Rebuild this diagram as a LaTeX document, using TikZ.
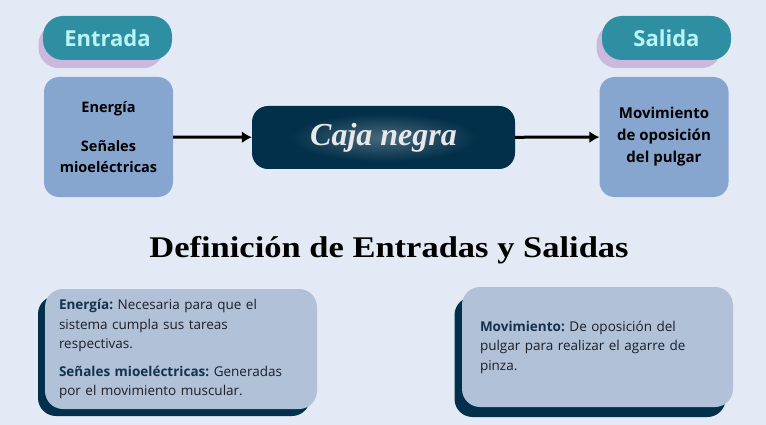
\documentclass[tikz,border=0pt]{standalone}
\usepackage{fontspec}
\usepackage{xcolor}
\usepackage{tikz}
\usetikzlibrary{arrows.meta}

\newfontfamily\opensans{Open Sans}
\newfontfamily\titlefont{Liberation Serif}
\frenchspacing

\definecolor{fondo}{HTML}{E3EAF6}
\definecolor{turquesa}{HTML}{2E8FA3}
\definecolor{lila}{HTML}{CBB8DC}
\definecolor{cian}{HTML}{B8F4F6}
\definecolor{azulcaja}{HTML}{86A6CF}
\definecolor{marino}{HTML}{022F49}
\definecolor{tarjeta}{HTML}{B0C1D8}
\definecolor{etiqueta}{HTML}{12324D}
\definecolor{texto}{HTML}{1E1E2A}

\begin{document}
\begin{tikzpicture}[x=1pt,y=-1pt,
  pill/.style={rounded corners=20pt,fill=turquesa,minimum width=129pt,minimum height=44pt,inner sep=0pt,
    text=cian,font=\opensans\bfseries\fontsize{22}{24}\selectfont},
  sombrapill/.style={rounded corners=20pt,fill=lila,minimum width=125pt,minimum height=44pt},
  bloque/.style={rounded corners=15pt,fill=azulcaja,minimum width=129pt,minimum height=120pt,inner sep=0pt,
    align=center,text=black,font=\opensans\bfseries\fontsize{14.5}{21}\selectfont},
  flecha/.style={line width=3pt,-{Latex[length=10pt,width=12pt]}},
  tarjetabox/.style={rounded corners=18pt,fill=tarjeta,minimum width=272pt,minimum height=120pt,
    align=left,text=texto,font=\opensans\fontsize{13.5}{19.5}\selectfont},
  sombrabox/.style={rounded corners=18pt,fill=marino,minimum width=272pt,minimum height=120pt}]
\useasboundingbox[fill=fondo] (0,0) rectangle (766,425);

% etiquetas de arriba
\node (entradasombra) at (101,46) [sombrapill] {};
\node (entrada) at (107.5,38) [pill] {Entrada};
\node (salidasombra) at (659,46) [sombrapill] {};
\node (salida) at (666.5,38) [pill] {Salida};

% entradas y salidas
\node (energia) at (108.5,137) [bloque] {Energía\\[18pt]Señales\\mioeléctricas};
\node (movimiento) at (664,137) [bloque,font=\opensans\bfseries\fontsize{15}{22}\selectfont] {Movimiento\\de oposición\\del pulgar};

% caja negra
\node (caja) at (383.5,137.5) [rounded corners=16pt,fill=marino,minimum width=263pt,minimum height=63pt] {};
\shade[inner color=marino!72!white,outer color=marino] (caja) ellipse (95pt and 24pt);
\node (cajatexto) at (caja) [text=white!91!black,font=\titlefont\bfseries\itshape\fontsize{32}{34}\selectfont] {Caja negra};

\draw[flecha] (energia) -- (caja);
\draw[flecha] (caja) -- (movimiento);

% titulo
\node (titulo) at (389,250) [font=\titlefont\bfseries\fontsize{30}{34}\selectfont] {\scalebox{1.15}[1]{Definición de Entradas y Salidas}};

% tarjetas
\node (sombraizq) at (174,356) [sombrabox] {};
\node (tarjetaizq) at (181,349) [tarjetabox,inner xsep=14pt,text width=244pt]
  {\textcolor{etiqueta}{\bfseries Energía:} Necesaria para que el\\sistema cumpla sus tareas\\respectivas.\\[8pt]
   \textcolor{etiqueta}{\bfseries Señales mioeléctricas:} Generadas\\por el movimiento muscular.};
\node (sombrader) at (590,357) [sombrabox,minimum width=271pt] {};
\node (tarjetader) at (597.5,347) [tarjetabox,minimum width=271pt,inner xsep=18pt,text width=235pt]
  {\textcolor{etiqueta}{\bfseries Movimiento:} De oposición del\\pulgar para realizar el agarre de\\pinza.};
\end{tikzpicture}
\end{document}
